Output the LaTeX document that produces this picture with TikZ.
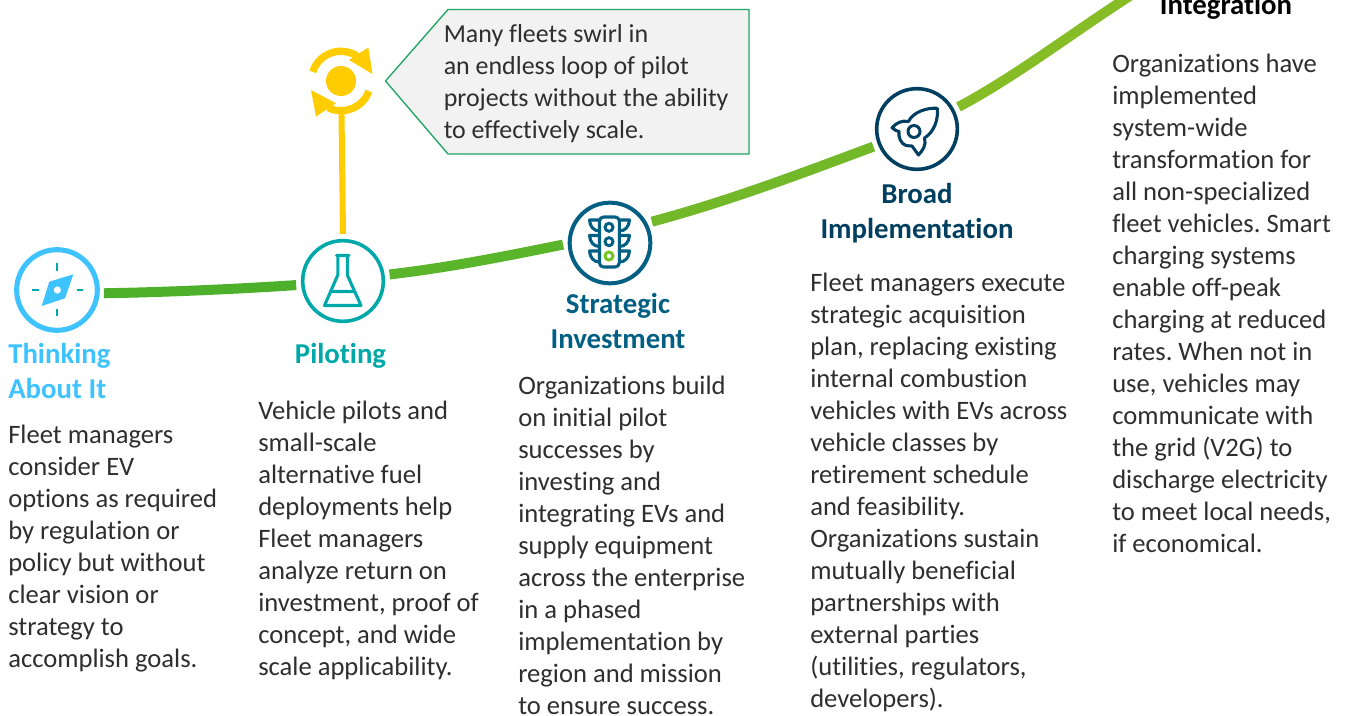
\documentclass[tikz,border=0pt]{standalone}
\usepackage{fontspec}
\setmainfont{Carlito}[Ligatures=CommonOff]
\definecolor{cThink}{HTML}{3EC3FF}
\definecolor{cTeal}{HTML}{00A9A9}
\definecolor{cStrat}{HTML}{005F83}
\definecolor{cBroad}{HTML}{003F5F}
\definecolor{cYellow}{HTML}{FFCC00}
\definecolor{gA}{HTML}{4CB02A}
\definecolor{gB}{HTML}{5AB52B}
\definecolor{gC}{HTML}{72B829}
\definecolor{gD}{HTML}{86BC25}
\definecolor{cEdge}{HTML}{1FA463}
\definecolor{cFill}{HTML}{F2F2F2}
\definecolor{cBody}{HTML}{2E2E2E}
\tikzset{
  stage/.style={circle,draw=#1,fill=white,minimum size=60.5pt,inner sep=0pt,outer sep=5pt},
  trail/.style={line width=7.5pt,line cap=butt},
  body/.style={anchor=north west,inner sep=0pt,align=left,text=cBody,
    font=\fontsize{19.95}{24}\selectfont\frenchspacing,execute at begin node=\strut},
  callbody/.style={body,font=\fontsize{19.45}{24}\selectfont\frenchspacing},
  head/.style={inner sep=0pt,align=center,text=#1,
    font=\fontsize{21.6}{26.25}\selectfont\bfseries,execute at begin node=\strut},
  iconline/.style={line width=2.3pt,line join=round,line cap=round},
}
\begin{document}
\begin{tikzpicture}[x=0.75pt,y=-0.75pt]
\clip (0,0) rectangle (1347,716);
% stage circles
\node[stage=cThink,line width=3.8pt] (think) at (57,290) {};
\node[stage=cTeal,line width=2.7pt] (pilot) at (343,281) {};
\node[stage=cStrat,line width=3pt] (strat) at (610,243) {};
\node[stage=cBroad,line width=2.7pt] (broad) at (917,129) {};
\coordinate (trailend) at (1136,-8);
% trail
\draw[trail,gA] (think.-4) .. controls +(60,-1) and +(-60,4) .. (pilot.185);
\draw[trail,gB] (pilot.8) .. controls +(60,-7) and +(-60,12) .. (strat.182);
\draw[trail,gC] (strat.27) .. controls +(75,-20) and +(-75,28) .. (broad.202);
\draw[trail,gD] (broad.28) .. controls +(60,-32) and +(-60,38) .. (trailend);
% swirl
\node[circle,minimum size=48pt,inner sep=0pt,outer sep=0pt] (swirl) at (341.5,81) {};
\node[circle,fill=cYellow,minimum size=22.5pt,inner sep=0pt] (hub) at (341,81) {};
\draw[line width=4.5pt,cYellow] (swirl.south) -- (pilot.north);
\draw[line width=5.5pt,cYellow] ([shift={(162:22.3pt)}]hub.center) arc (162:57:22.3pt);
\draw[line width=5.5pt,cYellow] ([shift={(-20:22.3pt)}]hub.center) arc (-20:-116:22.3pt);
\fill[cYellow] (368.3,47.5) -- (372.5,74) -- (349,60) -- cycle;
\fill[cYellow] (311,90) -- (336,103.3) -- (316,116.5) -- cycle;
% callout
\draw[cEdge,fill=cFill,line width=1pt] (385.5,81) -- (448,9.5) -- (749,9.5) -- (749,154) -- (448,154) -- cycle;
\node[callbody] (calltext) at (443.5,24.5) {Many fleets swirl in\\an endless loop of pilot\\projects without the ability\\to effectively scale.};
% compass
\fill[cThink] (73.3,274.3) -- (49.3,281.7) -- (41.7,306) -- (65,298.3) -- cycle;
\fill[white] (57.3,290) circle[radius=2.7pt];
\draw[cTeal,line width=1.5pt] (57.3,263.5) -- (57.3,270.7) (57.3,309) -- (57.3,315.7) (31.7,290) -- (39,290) (76.7,290) -- (83.3,290);
% flask
\draw[cTeal,iconline] (336.3,255.5) -- (349,255.5) (337.8,255.5) -- (337.8,275) -- (324.5,305.5) -- (361,305.5) -- (347.3,275) -- (347.3,255.5) (330.5,291.5) -- (354.5,291.5);
% traffic light
\draw[cStrat,iconline,rounded corners=3pt] (599.5,217) rectangle (619.3,267);
\foreach \yy in {220,235.5,251}{
  \draw[cStrat,iconline] (599.5,\yy) -- (589.5,\yy) .. controls (590,\yy+7) and (594,\yy+11) .. (599.5,\yy+11);
  \draw[cStrat,iconline] (619.3,\yy) -- (629.5,\yy) .. controls (629,\yy+7) and (625,\yy+11) .. (619.3,\yy+11);
}
\draw[cStrat,line width=2.2pt] (609,227.3) circle[radius=3pt];
\draw[cStrat,line width=2.2pt] (609,241.7) circle[radius=3pt];
\draw[gD!85!green,line width=2.2pt] (609,256) circle[radius=3pt];
% rocket
\draw[cBroad,iconline] (937.3,108.3) .. controls (927,107.5) and (913,112) .. (908.5,121.5) .. controls (902,120) and (896,123) .. (892,127.8)
  .. controls (894,130) and (897,131) .. (899,131.5) .. controls (898,137) and (901,144) .. (906,145.5) .. controls (909,146) and (911,146) .. (912,146) -- (918.5,155) .. controls (923,150) and (926.5,145) .. (924.5,138) .. controls (934,132) and (938.5,120) .. (937.3,108.3) -- cycle;
\draw[cBroad,line width=2.2pt] (914,131.5) circle[radius=4.5pt];
% headings
\node[head=cThink,anchor=north west,align=left] (h1) at (8,343) {Thinking\\About It};
\node[head=cTeal,anchor=north] (h2) at (340.5,339) {Piloting};
\node[head=cStrat,anchor=north] (h3) at (618,293) {Strategic\\Investment};
\node[head=cBroad,anchor=north] (h4) at (917,183) {Broad\\Implementation};
\node[head=black,anchor=north] (h5) at (1226,-10) {Integration};
% body text
\node[body] (b1) at (8,425) {Fleet managers\\consider EV\\options as required\\by regulation or\\policy but without\\clear vision or\\strategy to\\accomplish goals.};
\node[body] (b2) at (258,401) {Vehicle pilots and\\small-scale\\alternative fuel\\deployments help\\Fleet managers\\analyze return on\\investment, proof of\\concept, and wide\\scale applicability.};
\node[body] (b3) at (518,376) {Organizations build\\on initial pilot\\successes by\\investing and\\integrating EVs and\\supply equipment\\across the enterprise\\in a phased\\implementation by\\region and mission\\to ensure success.};
\node[body] (b4) at (810,273) {Fleet managers execute\\strategic acquisition\\plan, replacing existing\\internal combustion\\vehicles with EVs across\\vehicle classes by\\retirement schedule\\and feasibility.\\Organizations sustain\\mutually beneficial\\partnerships with\\external parties\\(utilities, regulators,\\developers).};
\node[body] (b5) at (1112,54) {Organizations have\\implemented\\system-wide\\transformation for\\all non-specialized\\fleet vehicles. Smart\\charging systems\\enable off-peak\\charging at reduced\\rates. When not in\\use, vehicles may\\communicate with\\the grid (V2G) to\\discharge electricity\\to meet local needs,\\if economical.};
\end{tikzpicture}
\end{document}
